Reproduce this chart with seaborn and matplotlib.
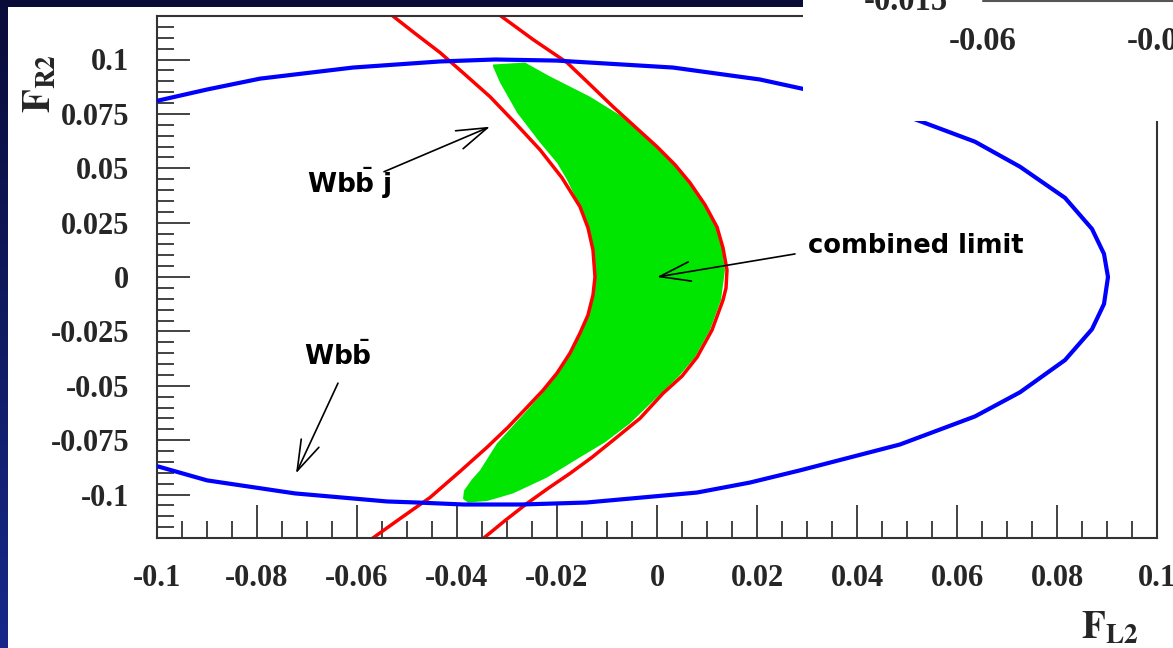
import numpy as np
import pandas as pd
import matplotlib
matplotlib.use("Agg")
import matplotlib.pyplot as plt
from matplotlib.patches import Rectangle
from matplotlib.ticker import MultipleLocator, FuncFormatter
import seaborn as sns

# Ellipse (Wbb) limit contour
blue_x = [-0.0998, -0.0900, -0.0794, -0.0608, -0.0434, -0.0324, -0.0200, 0.0032, 0.0206, 0.0290,
          0.0406, 0.0486, 0.0636, 0.0726, 0.0816, 0.0870, 0.0894, 0.0902, 0.0894, 0.0870,
          0.0816, 0.0726, 0.0636, 0.0486, 0.0286, 0.0186, 0.0080, -0.0142, -0.0272, -0.0386,
          -0.0478, -0.0540, -0.0724, -0.0900, -0.0998]
blue_y = [0.0811, 0.0862, 0.0912, 0.0963, 0.0991, 0.1000, 0.0995, 0.0963, 0.0908, 0.0866,
          0.0806, 0.0751, 0.0622, 0.0507, 0.0364, 0.0221, 0.0106, 0.0, -0.0124, -0.0240,
          -0.0382, -0.0530, -0.0641, -0.0770, -0.0889, -0.0945, -0.0991, -0.1037, -0.1046, -0.1046,
          -0.1037, -0.1032, -0.0995, -0.0935, -0.0871]

# Wbbj limit: two branches
red1_x = [-0.0530, -0.0484, -0.0434, -0.0384, -0.0334, -0.0284, -0.0234, -0.0190, -0.0154,
          -0.0138, -0.0128, -0.0124, -0.0128, -0.0138, -0.0154, -0.0174, -0.0200, -0.0228,
          -0.0260, -0.0298, -0.0340, -0.0394, -0.0454, -0.0514, -0.0570]
red1_y = [0.1203, 0.1120, 0.1032, 0.0931, 0.0829, 0.0709, 0.0585, 0.0456, 0.0323,
          0.0226, 0.0124, 0.0, -0.0083, -0.0175, -0.0258, -0.0350, -0.0442, -0.0521,
          -0.0599, -0.0691, -0.0783, -0.0894, -0.1014, -0.1111, -0.1203]
red2_x = [-0.0314, -0.0248, -0.0180, -0.0134, -0.0088, -0.0044, 0.0, 0.0036, 0.0066, 0.0096,
          0.0120, 0.0132, 0.0140, 0.0138, 0.0132, 0.0110, 0.0080, 0.0050, 0.0012, -0.0034,
          -0.0088, -0.0130, -0.0174, -0.0218, -0.0260, -0.0304, -0.0348]
red2_y = [0.1203, 0.1092, 0.0986, 0.0885, 0.0783, 0.0691, 0.0599, 0.0516, 0.0433, 0.0332,
          0.0230, 0.0134, 0.0032, -0.0051, -0.0106, -0.0244, -0.0369, -0.0456, -0.0535, -0.0650,
          -0.0751, -0.0829, -0.0903, -0.0972, -0.1041, -0.1120, -0.1203]

# combined allowed region
green_x = [-0.0328, -0.0264, -0.0214, -0.0134, -0.0060, 0.0, 0.0036, 0.0066, 0.0096, 0.0118,
           0.0130, 0.0136, 0.0128, 0.0106, 0.0076, 0.0044, 0.0008, -0.0054, -0.0104, -0.0154,
           -0.0220, -0.0288, -0.0340, -0.0378, -0.0388, -0.0386, -0.0370, -0.0354, -0.0320, -0.0260,
           -0.0228, -0.0200, -0.0174, -0.0154, -0.0138, -0.0128, -0.0124, -0.0128, -0.0138, -0.0154,
           -0.0180, -0.0200, -0.0234, -0.0280, -0.0314, -0.0328]
green_y = [0.0977, 0.0986, 0.0922, 0.0829, 0.0724, 0.0599, 0.0516, 0.0433, 0.0332, 0.0230,
           0.0134, 0.0032, -0.0106, -0.0244, -0.0369, -0.0456, -0.0535, -0.0673, -0.0760, -0.0829,
           -0.0922, -0.0995, -0.1030, -0.1037, -0.1020, -0.0982, -0.0930, -0.0889, -0.0765, -0.0613,
           -0.0530, -0.0447, -0.0355, -0.0263, -0.0175, -0.0083, 0.0, 0.0124, 0.0226, 0.0323,
           0.0447, 0.0525, 0.0618, 0.0756, 0.0894, 0.0968]

sns.set_theme(style="white")
plt.rcParams["axes.unicode_minus"] = False
plt.rcParams["mathtext.fontset"] = "stix"

fig = plt.figure(figsize=(11.73, 6.48), dpi=100)

# dark slide background + white panel
bg = fig.add_axes([0, 0, 1, 1], zorder=-10)
grad = np.linspace(0, 1, 256).reshape(-1, 1)
cmap = matplotlib.colors.LinearSegmentedColormap.from_list("bg", ["#0a0c38", "#16298a"])
bg.imshow(grad, aspect="auto", cmap=cmap, extent=[0, 1, 0, 1], origin="upper")
bg.axis("off")
fig.patches.append(Rectangle((8 / 1173, 0), 1, 1 - 7 / 648, transform=fig.transFigure,
                             facecolor="white", edgecolor="none", zorder=-5))

ax = fig.add_axes([157 / 1173, 1 - 538 / 648, 1000 / 1173, 522 / 648])
ax.set_facecolor("white")

ax.fill(green_x, green_y, color="#00e600", lw=0, zorder=1)
sns.lineplot(x=red1_x, y=red1_y, sort=False, estimator=None, color="#ff0000", lw=2.5, ax=ax, zorder=2)
sns.lineplot(x=red2_x, y=red2_y, sort=False, estimator=None, color="#ff0000", lw=2.5, ax=ax, zorder=2)
sns.lineplot(x=blue_x, y=blue_y, sort=False, estimator=None, color="#0000ff", lw=3, ax=ax, zorder=3)

ax.set_xlim(-0.1, 0.1)
ax.set_ylim(-0.12, 0.12)
ax.xaxis.set_major_locator(MultipleLocator(0.02))
ax.xaxis.set_minor_locator(MultipleLocator(0.005))
ax.yaxis.set_major_locator(MultipleLocator(0.025))
ax.yaxis.set_minor_locator(MultipleLocator(0.005))
fmt = FuncFormatter(lambda v, p: "%g" % (round(v, 4) + 0.0))
ax.xaxis.set_major_formatter(fmt)
ax.yaxis.set_major_formatter(fmt)
ax.tick_params(which="both", direction="in", bottom=True, left=True, top=False, right=False,
               width=1.2, color="#222222")
ax.tick_params(which="major", length=24, pad=19)
ax.tick_params(axis="y", which="major", pad=20)
ax.tick_params(which="minor", length=12)
for lab in ax.get_xticklabels() + ax.get_yticklabels():
    lab.set_fontfamily("Liberation Serif")
    lab.set_fontweight("bold")
    lab.set_fontsize(22)
for s in ax.spines.values():
    s.set_color("#333333")
    s.set_linewidth(1.5)
ax.set_xlabel("")
ax.set_ylabel("")

# annotations
arrow = dict(arrowstyle="->,head_length=1.1,head_width=0.35", color="black", lw=1.2,
             shrinkA=0, shrinkB=0, mutation_scale=20)
ann_font = dict(fontsize=19, color="black", math_fontfamily="dejavusans", va="center", ha="left")
ax.annotate("", xy=(-0.0334, 0.0691), xytext=(-0.0546, 0.0484), arrowprops=arrow)
ax.text(-0.0700, 0.0433, r"$\mathbf{Wb\bar{b}\ j}$", **ann_font)
ax.annotate("", xy=(0.0, 0.0), xytext=(0.0276, 0.0106), arrowprops=arrow)
ax.text(0.0302, 0.0143, "combined limit", fontsize=18.5, fontweight="bold", color="black",
        va="center", ha="left")
ax.annotate("", xy=(-0.0722, -0.0903), xytext=(-0.0638, -0.0488), arrowprops=arrow)
ax.text(-0.0706, -0.0364, r"$\mathbf{Wb\bar{b}}$", **ann_font)

fig.text(40 / 1173, 1 - 83 / 648, r"$\mathbf{F}_{\mathbf{R2}}$", rotation=90, fontsize=28,
         ha="center", va="center")
fig.text(1110 / 1173, 1 - 628 / 648, r"$\mathbf{F}_{\mathbf{L2}}$", fontsize=28,
         ha="center", va="center")

# pasted fragment of another plot at the top right
fig.patches.append(Rectangle((803 / 1173, 1 - 121 / 648), 1, 1, transform=fig.transFigure,
                             facecolor="white", edgecolor="none", zorder=5))
frag = dict(fontfamily="Liberation Serif", fontweight="bold", fontsize=23.5, va="center", zorder=6)
fig.text(906 / 1173, 1 - 1 / 648, "-0.015", ha="center", **frag)
fig.text(983 / 1173, 1 - 42 / 648, "-0.06", ha="center", **frag)
fig.text(1127 / 1173, 1 - 42 / 648, "-0.04", ha="left", **frag)
fig.add_artist(plt.Line2D([983 / 1173, 1], [1 - 1 / 648, 1 - 1 / 648], transform=fig.transFigure,
                          color="#555555", lw=1.5, zorder=6))

fig.savefig("out.png", dpi=100)
